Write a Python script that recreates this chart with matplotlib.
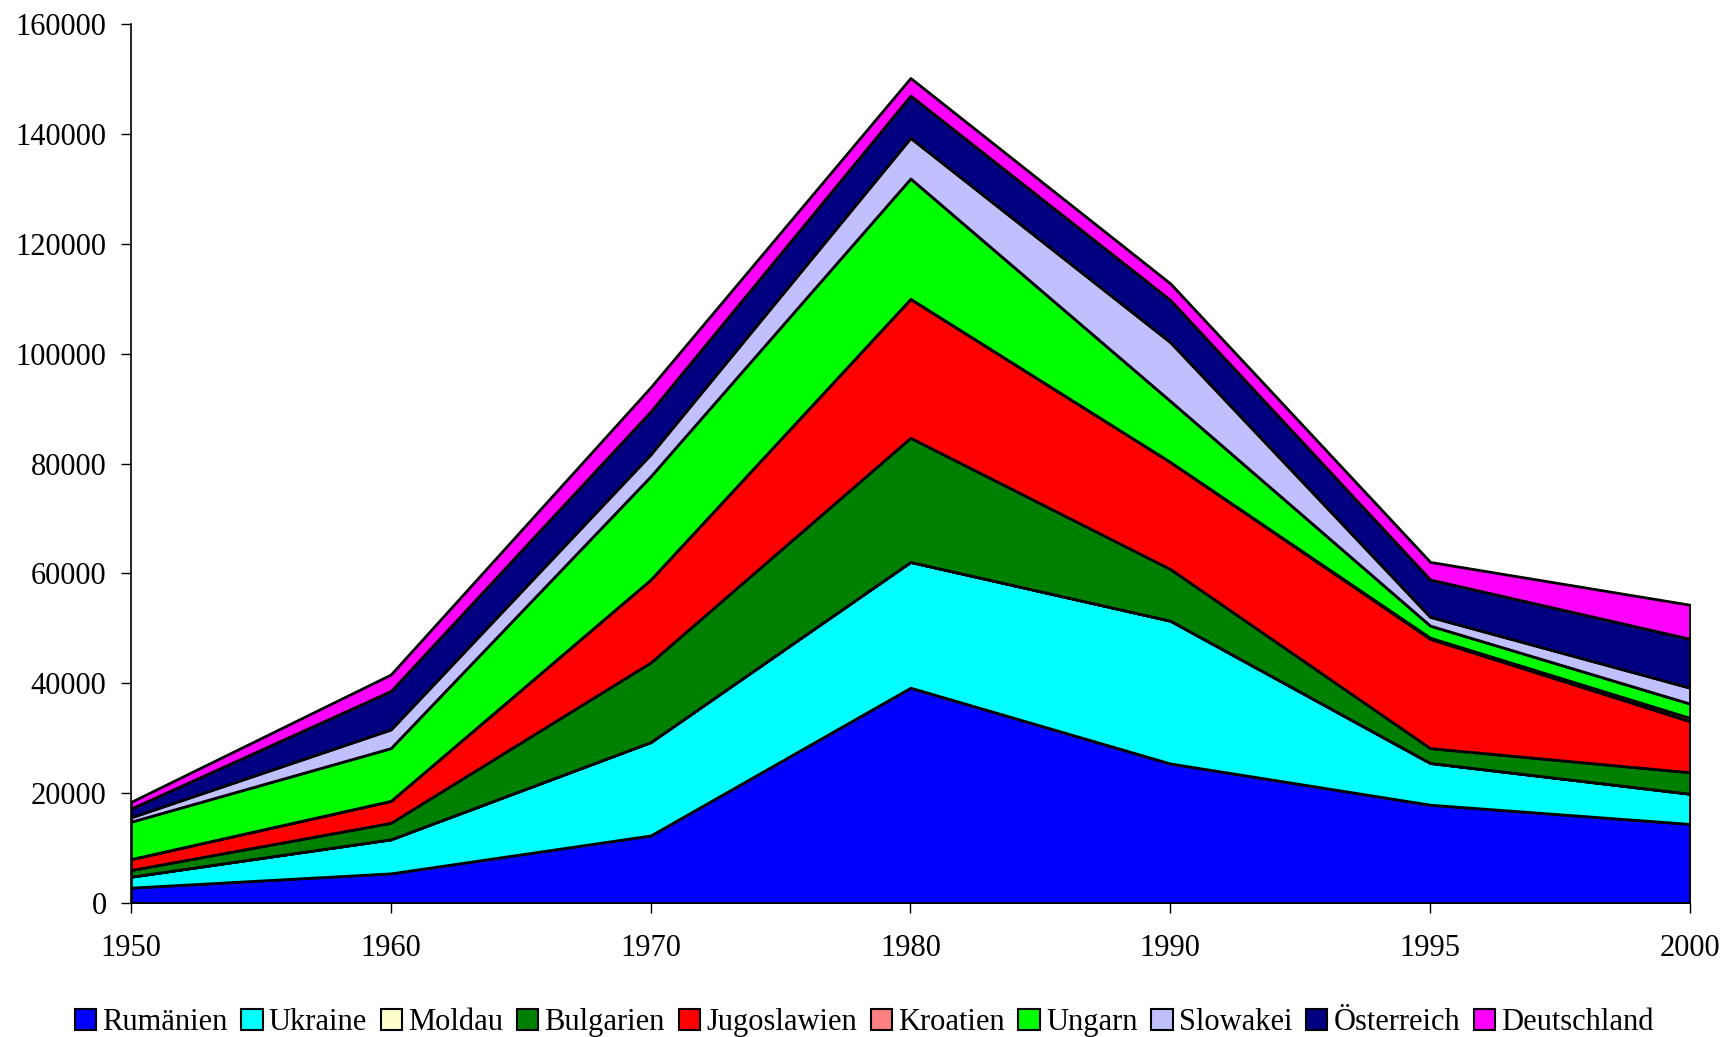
import matplotlib.pyplot as plt
from matplotlib.patches import Patch
import numpy as np

# === Data ===
years = ["1950", "1960", "1970", "1980", "1990", "1995", "2000"]

rumaenien   = [2800, 5400, 12300, 39200, 25400, 17900, 14400]
ukraine     = [2000, 6200, 17000, 22900, 26000, 7600, 5500]
moldau      = [0, 0, 0, 0, 0, 0, 0]
bulgarien   = [1200, 3000, 14500, 22600, 9400, 2700, 3900]
jugoslawien = [2000, 4000, 15100, 25300, 19500, 19900, 9300]
kroatien    = [0, 0, 0, 0, 0, 200, 600]
ungarn      = [6800, 9600, 18800, 21900, 11100, 2200, 2600]
slowakei    = [800, 3400, 4000, 7400, 10700, 1600, 2900]
oesterreich = [1600, 7000, 7800, 7700, 7700, 6800, 8900]
deutschland = [1200, 3000, 4400, 3200, 3000, 3200, 6200]

labels = ["Rumänien", "Ukraine", "Moldau", "Bulgarien", "Jugoslawien",
          "Kroatien", "Ungarn", "Slowakei", "Österreich", "Deutschland"]
colors = ["#0000FF", "#00FFFF", "#FFFFCC", "#008000", "#FF0000",
          "#FF8080", "#00FF00", "#C0C0FF", "#000080", "#FF00FF"]

series = [rumaenien, ukraine, moldau, bulgarien, jugoslawien,
          kroatien, ungarn, slowakei, oesterreich, deutschland]

# === Style ===
plt.rcParams["font.family"] = ["Liberation Serif", "DejaVu Serif"]
plt.rcParams["font.size"] = 22

fig = plt.figure(figsize=(17.25, 10.37), dpi=100)
ax = fig.add_axes([0.0759, 0.1292, 0.9038, 0.8475])

x = np.arange(len(years))
ax.stackplot(x, *series, colors=colors, edgecolor="black", linewidth=2)

ax.set_xlim(0, len(years) - 1)
ax.set_ylim(0, 160000)
ax.set_xticks(x)
ax.set_xticklabels(years)
ax.set_yticks(np.arange(0, 160001, 20000))
ax.set_yticklabels([str(v) for v in range(0, 160001, 20000)])

for side in ["top", "right"]:
    ax.spines[side].set_visible(False)
for side in ["left", "bottom"]:
    ax.spines[side].set_color("black")
    ax.spines[side].set_linewidth(1.2)

ax.tick_params(axis="y", direction="out", length=7.5, width=1, pad=10)
ax.tick_params(axis="x", direction="out", length=7, width=1, pad=15)

# === Legend ===
handles = [Patch(facecolor=c, edgecolor="black", linewidth=1.5) for c in colors]
fig.legend(handles, labels, loc="center", bbox_to_anchor=(0.501, 0.014),
           ncol=10, frameon=False, handlelength=0.7, handleheight=0.7,
           handletextpad=0.2, columnspacing=0.45, borderaxespad=0,
           fontsize=22)

fig.savefig("out.png", dpi=100)
